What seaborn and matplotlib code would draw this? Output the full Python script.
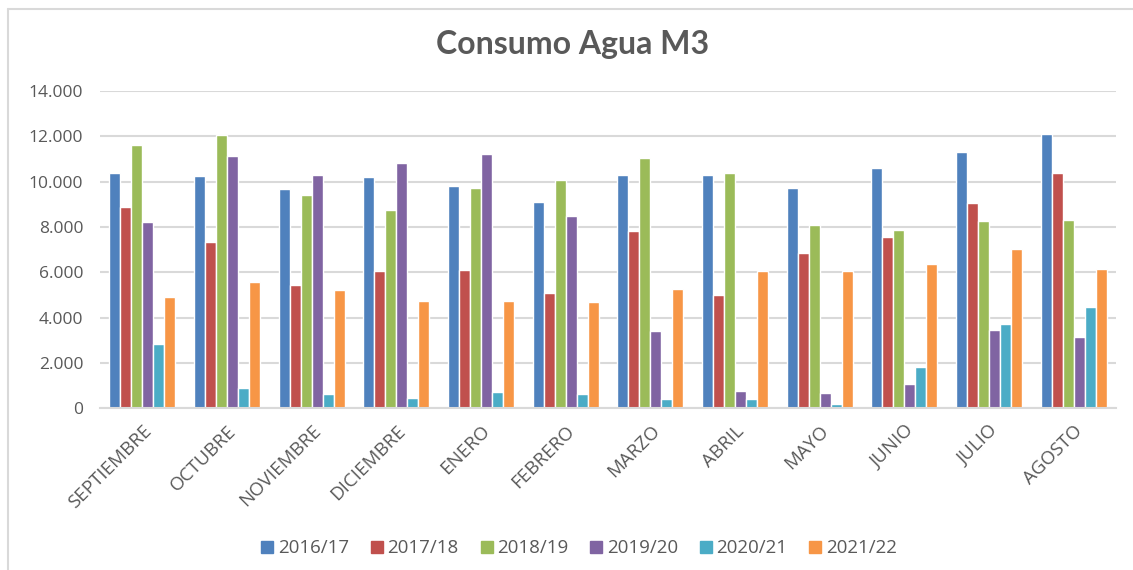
import matplotlib
matplotlib.use("Agg")
import matplotlib.pyplot as plt
import seaborn as sns
import pandas as pd
from matplotlib.ticker import FuncFormatter, MultipleLocator
from matplotlib.lines import Line2D

months = ["SEPTIEMBRE", "OCTUBRE", "NOVIEMBRE", "DICIEMBRE", "ENERO", "FEBRERO",
          "MARZO", "ABRIL", "MAYO", "JUNIO", "JULIO", "AGOSTO"]
seasons = ["2016/17", "2017/18", "2018/19", "2019/20", "2020/21", "2021/22"]

v_2016_17 = [10380, 10240, 9680, 10190, 9820, 9100, 10300, 10300, 9740, 10590, 11310, 12110]
v_2017_18 = [8870, 7350, 5450, 6070, 6110, 5070, 7820, 5010, 6840, 7560, 9060, 10400]
v_2018_19 = [11620, 12060, 9400, 8740, 9720, 10070, 11060, 10400, 8070, 7870, 8250, 8290]
v_2019_20 = [8210, 11150, 10300, 10830, 11210, 8500, 3410, 740, 650, 1080, 3450, 3130]
v_2020_21 = [2830, 870, 610, 450, 700, 610, 400, 400, 180, 1800, 3700, 4450]
v_2021_22 = [4920, 5560, 5200, 4730, 4730, 4690, 5260, 6070, 6070, 6360, 7010, 6130]

colors = ["#4F81BD", "#C0504D", "#9BBB59", "#8064A2", "#4BACC6", "#F79646"]

series = [v_2016_17, v_2017_18, v_2018_19, v_2019_20, v_2020_21, v_2021_22]
rows = []
for s, vals in zip(seasons, series):
    for m, v in zip(months, vals):
        rows.append({"mes": m, "temporada": s, "valor": v})
df = pd.DataFrame(rows)

sns.set_theme(style="white")
plt.rcParams["font.family"] = ["Open Sans", "DejaVu Sans"]

fig = plt.figure(figsize=(11.33, 5.70), dpi=100)
ax = fig.add_axes([0.0883, 0.284, 0.8967, 0.556])

sns.barplot(data=df, x="mes", y="valor", hue="temporada", order=months,
            hue_order=seasons, palette=colors, width=0.78, saturation=1,
            edgecolor="white", linewidth=1.0, errorbar=None, ax=ax, legend=False)

ax.set_ylim(0, 14000)
ax.set_xlim(-0.5, len(months) - 0.5)
ax.yaxis.set_major_locator(MultipleLocator(2000))
ax.yaxis.set_major_formatter(FuncFormatter(lambda v, p: f"{int(v):,}".replace(",", ".")))
ax.yaxis.grid(True, color="#D9D9D9", linewidth=1.5)
ax.set_axisbelow(True)
for sp in ["top", "right", "left"]:
    ax.spines[sp].set_visible(False)
ax.spines["bottom"].set_color("#D9D9D9")
ax.spines["bottom"].set_linewidth(1.5)
ax.set_xlabel("")
ax.set_ylabel("")
ax.tick_params(axis="y", length=0, pad=12, labelsize=12.5, labelcolor="#595959")
ax.tick_params(axis="x", length=0, pad=10, labelsize=13.5, labelcolor="#595959")
plt.setp(ax.get_xticklabels(), rotation=45, ha="right", rotation_mode="anchor")

fig.text(0.505, 0.922, "Consumo Agua M3", ha="center", va="center",
         fontsize=23, fontweight="bold", color="#595959", family=["Lato", "DejaVu Sans"])

handles = [Line2D([0], [0], marker="s", linestyle="none", markersize=8,
                  markerfacecolor=c, markeredgecolor=c) for c in colors]
fig.legend(handles, seasons, loc="center", bbox_to_anchor=(0.51, 0.038), ncol=6,
           frameon=False, fontsize=13.5, labelcolor="#595959", handletextpad=0.1,
           columnspacing=1.05, handlelength=0.9)

fig.add_artist(Line2D([0.007, 0.007], [0, 0.985], transform=fig.transFigure,
                      color="#D9D9D9", linewidth=1.5))
fig.add_artist(Line2D([0.007, 1.0], [0.985, 0.985], transform=fig.transFigure,
                      color="#D9D9D9", linewidth=1.5))

fig.savefig("out.png", dpi=100, facecolor="white")
